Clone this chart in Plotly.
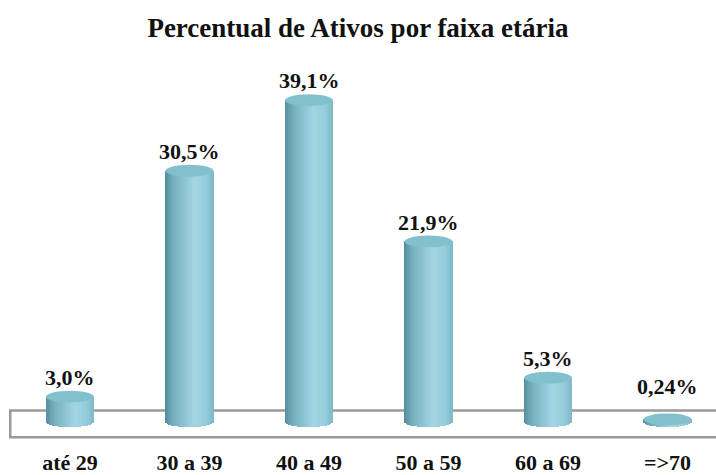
import numpy as np
import plotly.graph_objects as go

categories = ["até 29", "30 a 39", "40 a 49", "50 a 59", "60 a 69", "=>70"]
values = [3.0, 30.5, 39.1, 21.9, 5.3, 0.24]
value_labels = ["3,0%", "30,5%", "39,1%", "21,9%", "5,3%", "0,24%"]
title_text = "Percentual de Ativos por faixa etária"

xs = np.arange(len(categories))
W = 0.40          # cylinder width (x units)
HB = 0.72         # half height of elliptical caps (y units)
N = 30            # gradient slices

def lerp(c1, c2, t):
    return tuple(int(round(a + (b - a) * t)) for a, b in zip(c1, c2))

stops = [(0.0, (84, 140, 154)), (0.18, (118, 176, 190)), (0.6, (162, 214, 227)),
         (0.85, (150, 205, 219)), (1.0, (126, 184, 198))]

def grad(t):
    for (t0, c0), (t1, c1) in zip(stops[:-1], stops[1:]):
        if t <= t1:
            return lerp(c0, c1, (t - t0) / (t1 - t0))
    return stops[-1][1]

fig = go.Figure()
sw = W / N
for k in range(N):
    t = (k + 0.5) / N
    u = 2 * t - 1
    e = HB * np.sqrt(max(0.0, 1 - u * u))
    col = "rgb(%d,%d,%d)" % grad(t)
    fig.add_trace(go.Bar(
        x=xs, y=[v + e for v in values], base=[-e] * len(values),
        width=sw * 1.08, offset=-W / 2 + k * sw,
        marker=dict(color=col, line=dict(width=0)),
        showlegend=False, hoverinfo="skip"))

shapes = [dict(type="rect", xref="x", yref="y", x0=-0.5, x1=5.8, y0=-1.95, y1=1.3,
               line=dict(color="#9a9a9a", width=2.5), fillcolor="white", layer="below")]
for x, v in zip(xs, values):
    shapes.append(dict(type="circle", xref="x", yref="y",
                       x0=x - W / 2, x1=x + W / 2, y0=v - HB, y1=v + HB,
                       fillcolor="rgb(130,192,206)", line=dict(width=0), layer="above"))

annotations = []
for x, v, lab in zip(xs, values, value_labels):
    annotations.append(dict(x=x, y=max(v, 1.9) + 2.35, xref="x", yref="y",
                            text="<b>" + lab + "</b>",
                            showarrow=False, yanchor="middle",
                            font=dict(family="Liberation Serif", size=22, color="#111")))

fig.update_layout(
    width=716, height=475,
    margin=dict(l=0, r=0, t=53, b=27),
    paper_bgcolor="white", plot_bgcolor="white",
    barmode="overlay", bargap=0,
    title=dict(text="<b>" + title_text + "</b>", x=0.5, xanchor="center", y=0.941, yanchor="middle",
               font=dict(family="Liberation Serif", size=27, color="#111")),
    xaxis=dict(range=[-70 / 119.5, 646 / 119.5], tickvals=list(xs),
               ticktext=["<b>%s</b>" % c for c in categories],
               showgrid=False, zeroline=False, showline=False, ticks="",
               tickfont=dict(family="Liberation Serif", size=22, color="#111"),
               ticklabelstandoff=5),
    yaxis=dict(range=[-2.52, 44.84], visible=False, showgrid=False, zeroline=False),
    shapes=shapes, annotations=annotations,
)

fig.write_html("out.html", post_script="document.body.style.margin='0';",
               config={"displayModeBar": False})
